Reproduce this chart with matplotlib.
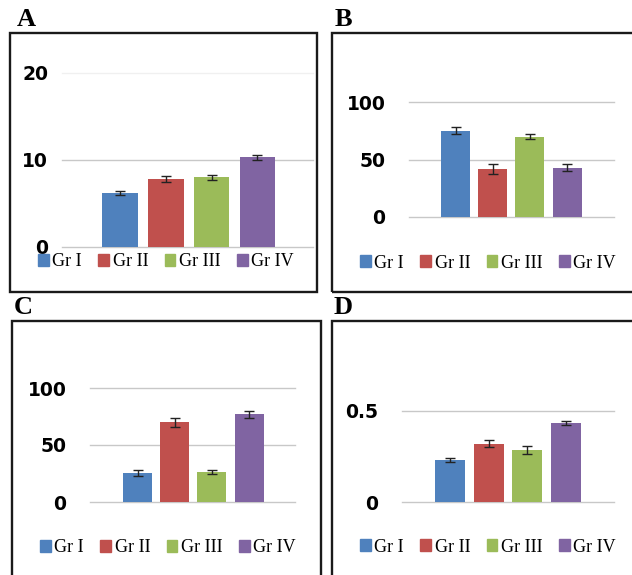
import numpy as np
import matplotlib
matplotlib.use("Agg")
import matplotlib.pyplot as plt
from matplotlib.patches import Rectangle

# data
groups = ["Gr I", "Gr II", "Gr III", "Gr IV"]
colors = ["#4F81BD", "#C0504D", "#9BBB59", "#8064A2"]

a_vals = [6.2, 7.8, 8.0, 10.3]
a_err = [0.25, 0.35, 0.3, 0.3]
b_vals = [75, 42, 70, 43]
b_err = [3, 4.5, 2.5, 3]
c_vals = [25.5, 70, 26.5, 77]
c_err = [3, 4, 2, 3]
d_vals = [0.23, 0.32, 0.285, 0.434]
d_err = [0.012, 0.02, 0.022, 0.01]

a_ticks = [0, 10, 20]
b_ticks = [0, 50, 100]
c_ticks = [0, 50, 100]
d_ticks = [0, 0.5]
d_ticklabels = ["0", "0.5"]

W, H = 632, 575
fig = plt.figure(figsize=(W / 100, H / 100), dpi=100)


def fx(x):
    return x / W


def fy(y):
    return 1 - y / H


def panel(letter, box, letter_xy, grid_x, c0, sp, y0, ytop, ppu,
          vals, errs, ticks, ticklabels, pad, leg_xy, faint_top=False):
    # outer box
    x0b, y0b, x1b, y1b = box
    fig.patches.append(Rectangle((fx(x0b), fy(y1b)), fx(x1b - x0b), (y1b - y0b) / H,
                                 transform=fig.transFigure, fill=False,
                                 edgecolor="#1a1a1a", linewidth=1.7))
    fig.text(fx(letter_xy[0]), fy(letter_xy[1]), letter, family="Liberation Serif",
             fontweight="bold", fontsize=19, va="bottom", ha="left")

    L, R = grid_x
    ax = fig.add_axes([fx(L), fy(y0), fx(R - L), (y0 - ytop) / H])
    x = np.arange(len(vals))
    ax.bar(x, vals, width=0.78, color=colors, zorder=3)
    ax.errorbar(x, vals, yerr=errs, fmt="none", ecolor="#222222",
                elinewidth=1, capsize=3.5, capthick=1, zorder=4)
    ax.set_xlim((L - c0) / sp, (R - c0) / sp)
    ax.set_ylim(0, (y0 - ytop) / ppu)
    for i, t in enumerate(ticks):
        col = "#f0f0f0" if (faint_top and i == len(ticks) - 1) else "#c8c8c8"
        ax.axhline(t, color=col, linewidth=1, zorder=1, clip_on=False)
    ax.set_yticks(ticks)
    ax.set_yticklabels(ticklabels)
    ax.tick_params(axis="y", length=0, pad=pad, labelsize=13.5)
    for lab in ax.get_yticklabels():
        lab.set_fontweight("bold")
        lab.set_family("DejaVu Sans")
    ax.set_xticks([])
    for s in ax.spines.values():
        s.set_visible(False)
    ax.patch.set_alpha(0)

    handles = [Rectangle((0, 0), 1, 1, color=c) for c in colors]
    fig.legend(handles, groups, loc="center", bbox_to_anchor=(fx(leg_xy[0]), fy(leg_xy[1])),
               ncol=4, frameon=False, handlelength=0.6, handleheight=0.6,
               handletextpad=0.2, columnspacing=0.9, borderaxespad=0,
               prop={"family": "Liberation Serif", "size": 13})


panel("A", (10, 33, 317, 292), (17, 31), (62, 313), 120, 45.8, 247, 60, 8.72,
      a_vals, a_err, a_ticks, [str(t) for t in a_ticks], 10, (166, 262), faint_top=True)
panel("B", (332, 33, 640, 292), (335, 31), (409, 614), 455.5, 37.2, 217, 85, 1.15,
      b_vals, b_err, b_ticks, [str(t) for t in b_ticks], 17, (488, 263))
panel("C", (12, 321, 321, 590), (14, 319), (90, 295), 137.5, 37.2, 502, 370, 1.14,
      c_vals, c_err, c_ticks, [str(t) for t in c_ticks], 17, (168, 548))
panel("D", (332, 321, 640, 590), (334, 319), (402, 614), 450, 38.6, 502, 380, 182,
      d_vals, d_err, d_ticks, d_ticklabels, 17, (488, 547))

fig.savefig("out.png", dpi=100, facecolor="white")
